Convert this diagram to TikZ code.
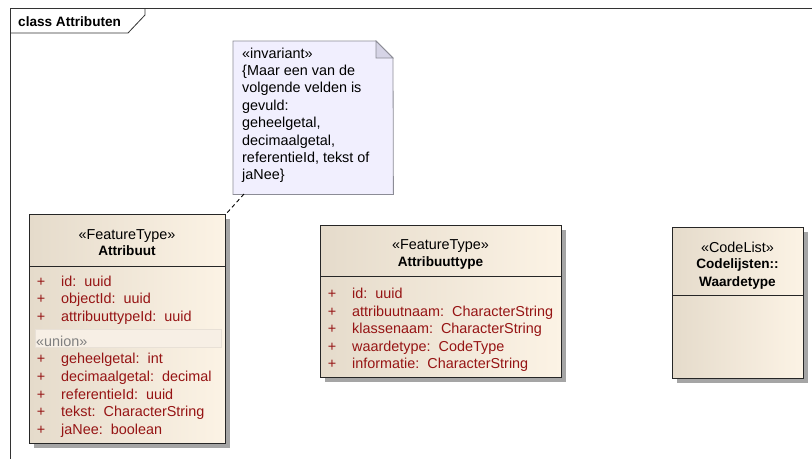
\documentclass[tikz,border=0pt]{standalone}
\usepackage{fontspec}
\setmainfont{Liberation Sans}
\definecolor{clsL}{RGB}{229,219,203}
\definecolor{clsR}{RGB}{252,243,229}
\definecolor{notefill}{RGB}{241,239,254}
\definecolor{notefold}{RGB}{214,212,230}
\definecolor{noteline}{RGB}{140,140,150}
\definecolor{attrred}{RGB}{150,20,20}
\definecolor{shadowc}{RGB}{165,165,165}
\definecolor{unionfill}{RGB}{247,239,229}
\definecolor{unionline}{RGB}{232,224,214}
\definecolor{uniontext}{RGB}{128,128,128}
\newcommand\rfont{\fontsize{14.4}{17}\selectfont}
\newcommand\bfont{\fontsize{13.6}{16}\selectfont\bfseries}
\begin{document}
\begin{tikzpicture}[x=1pt,y=-1pt,
  clsbox/.style={draw=black!85, line width=1pt, left color=clsL, right color=clsR, inner sep=0pt, anchor=north west},
  sepline/.style={draw=black!85, line width=1pt},
  shadowbox/.style={fill=shadowc},
  hdr/.style={inner sep=0pt, anchor=base, text=black, font=\rfont},
  hdrb/.style={inner sep=0pt, anchor=base, text=black, font=\bfont},
  plus/.style={inner sep=0pt, anchor=base, text=attrred, font=\rfont},
  attrtxt/.style={inner sep=0pt, anchor=base west, text=attrred, font=\rfont},
  notetxt/.style={inner sep=0pt, anchor=base west, text=black, font=\rfont},
  frameline/.style={draw=black!80, line width=0.8pt},
  noteconn/.style={draw=black, line width=0.9pt, dash pattern=on 4pt off 3pt}
]
\useasboundingbox (0,0) rectangle (812,459);
\fill[white] (0,0) rectangle (812,459);

% frame
\draw[frameline] (812,8) -- (10,8) -- (10,459);
\draw[frameline] (10,33) -- (128,33) -- (145,15) -- (145,8);
\node[inner sep=0pt, anchor=base west, font=\bfont] (title) at (18,26.5) {class Attributen};

% note
\node[inner sep=0pt, minimum width=160pt, minimum height=153pt, anchor=north west] (note) at (233,41) {};
\filldraw[fill=notefill, draw=noteline, line width=0.8pt]
  (note.north west) -- (376,41) -- (393,58) -- (note.south east) -- (note.south west) -- cycle;
\filldraw[fill=notefold, draw=noteline, line width=0.8pt] (376,41) -- (376,58) -- (393,58) -- cycle;
\node[notetxt] (n1) at (242,58) {«invariant»};
\node[notetxt] (n2) at (242,75.4) {\{Maar een van de};
\node[notetxt] (n3) at (242,92.8) {volgende velden is};
\node[notetxt] (n4) at (242,110.2) {gevuld:};
\node[notetxt] (n5) at (242,127.6) {geheelgetal,};
\node[notetxt] (n6) at (242,145) {decimaalgetal,};
\node[notetxt] (n7) at (242,162.4) {referentieId, tekst of};
\node[notetxt] (n8) at (242,179.8) {jaNee\}};

% Attribuut
\fill[shadowc] (34,219) rectangle (230,448);
\node[clsbox, minimum width=196pt, minimum height=229pt] (attr) at (29,214) {};
\draw[sepline] (29,266) -- (225,266);
\node[hdr] (a0) at (127,239) {«FeatureType»};
\node[hdrb] (a00) at (127,255) {Attribuut};
\node[inner sep=0pt, minimum width=186pt, minimum height=18pt, anchor=north west, fill=unionfill, draw=unionline, line width=0.5pt] (union) at (35,329) {};
\node[inner sep=0pt, anchor=base west, text=uniontext, font=\rfont] (ulab) at (36,346) {«union»};
\foreach \y/\t [count=\i] in {286/{id:\ \ uuid}, 303.5/{objectId:\ \ uuid}, 321/{attribuuttypeId:\ \ uuid},
   363.5/{geheelgetal:\ \ int}, 381.2/{decimaalgetal:\ \ decimal}, 399/{referentieId:\ \ uuid},
   416.7/{tekst:\ \ CharacterString}, 434.5/{jaNee:\ \ boolean}} {
  \node[plus] (ap\i) at (41,\y) {+};
  \node[attrtxt] (at\i) at (61,\y) {\t};
}

% Attribuuttype
\fill[shadowc] (325,230) rectangle (566,382);
\node[clsbox, minimum width=241pt, minimum height=152pt] (atype) at (320,225) {};
\draw[sepline] (320,276) -- (561,276);
\node[hdr] (b0) at (440.5,249) {«FeatureType»};
\node[hdrb] (b00) at (440.5,266) {Attribuuttype};
\foreach \y/\t [count=\i] in {298/{id:\ \ uuid}, 316/{attribuutnaam:\ \ CharacterString},
   333.5/{klassenaam:\ \ CharacterString}, 351/{waardetype:\ \ CodeType}, 368.5/{informatie:\ \ CharacterString}} {
  \node[plus] (bp\i) at (332,\y) {+};
  \node[attrtxt] (bt\i) at (352,\y) {\t};
}

% Codelist
\fill[shadowc] (677,232) rectangle (808,383);
\node[clsbox, minimum width=131pt, minimum height=151pt] (clist) at (672,227) {};
\draw[sepline] (672,295) -- (803,295);
\node[hdr] (c0) at (737.5,252) {«CodeList»};
\node[hdrb] (c1) at (737.5,268) {Codelijsten::};
\node[hdrb] (c2) at (737.5,286) {Waardetype};

% connector
\coordinate (nb) at (244,194);
\draw[noteconn] (nb) -- (attr.north east);
\end{tikzpicture}
\end{document}
